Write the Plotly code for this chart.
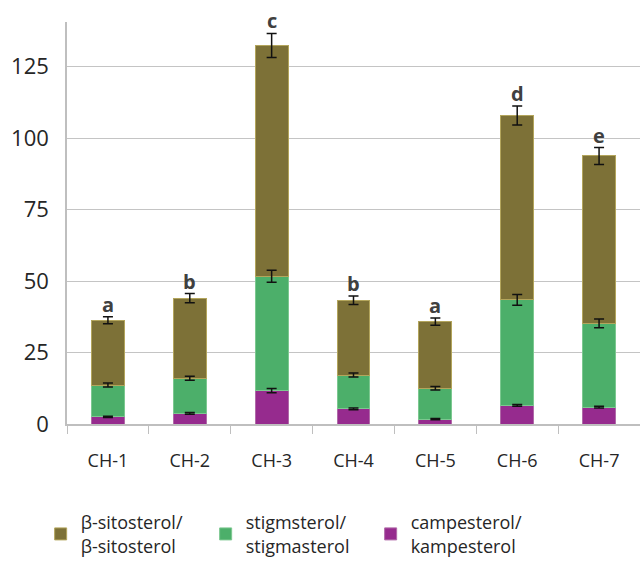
import plotly.graph_objects as go

categories = ["CH-1", "CH-2", "CH-3", "CH-4", "CH-5", "CH-6", "CH-7"]

# stacked segment values
campesterol = [2.5, 3.7, 11.7, 5.3, 1.7, 6.5, 5.9]
stigmasterol = [11.1, 12.3, 40.0, 11.8, 10.8, 36.9, 29.3]
sitosterol = [22.7, 28.0, 80.7, 26.2, 23.3, 64.5, 58.55]

# error bars (± SD)
campesterol_err = [0.25, 0.3, 0.75, 0.3, 0.25, 0.3, 0.3]
stigmasterol_err = [0.7, 0.7, 2.1, 0.7, 0.6, 1.85, 1.56]
sitosterol_err = [1.2, 1.6, 4.2, 1.5, 1.3, 3.3, 2.95]

letters = ["a", "b", "c", "b", "a", "d", "e"]

names = ["β-sitosterol/<br>β-sitosterol", "stigmsterol/<br>stigmasterol", "campesterol/<br>kampesterol"]
colors = ["#7d7137", "#4caf6a", "#962b8e"]

FONT = "Open Sans"

fig = go.Figure()
series = [
    (campesterol, campesterol_err, names[2], colors[2], "#b06aa8"),
    (stigmasterol, stigmasterol_err, names[1], colors[1], "#7cc890"),
    (sitosterol, sitosterol_err, names[0], colors[0], "#b3a55c"),
]
for vals, errs, name, col, lc in series:
    fig.add_trace(go.Bar(
        x=categories, y=vals, name=name,
        marker=dict(color=col, line=dict(color=lc, width=1)),
    ))

# error bars drawn on top of all bars, at the top of each stacked segment
cum = [0.0] * len(categories)
for vals, errs, name, col, lc in series:
    cum = [c + v for c, v in zip(cum, vals)]
    fig.add_trace(go.Scatter(
        x=categories, y=cum, mode="markers", marker=dict(size=1, opacity=0),
        showlegend=False, hoverinfo="skip",
        error_y=dict(type="data", array=errs, visible=True, color="#111111", thickness=1.5, width=5),
    ))

totals = cum
for cat, tot, err, lt in zip(categories, totals, sitosterol_err, letters):
    fig.add_annotation(x=cat, y=tot + err, text=f"<b>{lt}</b>", showarrow=False,
                       yanchor="bottom", yshift=-3, font=dict(family=FONT, size=20, color="#404040"))

fig.update_layout(
    width=640, height=564,
    barmode="stack", bargap=0.6,
    plot_bgcolor="white", paper_bgcolor="white",
    margin=dict(l=67, r=0, t=22, b=137),
    font=dict(family=FONT, color="#262626"),
    showlegend=True,
    legend=dict(orientation="h", x=-0.046, y=-0.2, xanchor="left", yanchor="top",
                traceorder="reversed", entrywidth=120, font=dict(family=FONT, size=18, color="#262626"),
                itemclick=False),
    xaxis=dict(showline=True, linecolor="#bfbfbf", linewidth=1.5, ticks="outside", tickson="boundaries",
               ticklen=8, tickcolor="#bfbfbf", tickfont=dict(family=FONT, size=18, color="#262626"),
               ticklabelstandoff=20),
    yaxis=dict(range=[0, 140.6], tickvals=[0, 25, 50, 75, 100, 125], showgrid=True, gridcolor="#c4c4c4",
               gridwidth=1.2, showline=True, linecolor="#bfbfbf", linewidth=1.5, zeroline=False,
               tickfont=dict(family=FONT, size=22, color="#262626"), ticklabelstandoff=12),
)

fig.write_html("out.html")
